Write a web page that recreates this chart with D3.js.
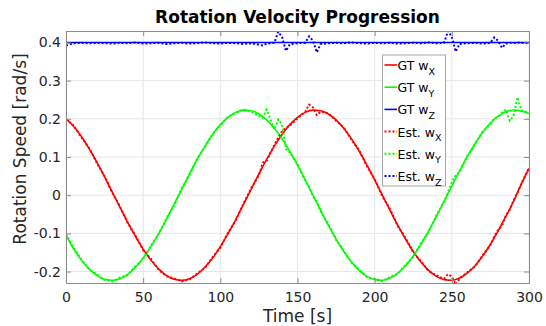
<!DOCTYPE html>
<html>
<head>
<meta charset="utf-8">
<script src="https://cdn.jsdelivr.net/npm/d3@7"></script>
<style>
body { margin: 0; background: #fff; }
text { font-family: "DejaVu Sans", sans-serif; }
</style>
</head>
<body>
<div id="chart"></div>
<script>
// ground truth, every 5 s
var gtTime = [0,5,10,15,20,25,30,35,40,45,50,55,60,65,70,75,80,85,90,95,100,
  105,110,115,120,125,130,135,140,145,150,155,160,165,170,175,180,185,190,195,200,
  205,210,215,220,225,230,235,240,245,250,255,260,265,270,275,280,285,290,295,300];
var gtX = [0.2006,0.180,0.1535,0.1218,0.0864,0.0479,0.0082,-0.0322,-0.0711,-0.1078,-0.1412,
  -0.1701,-0.1931,-0.2099,-0.2201,-0.2230,-0.2186,-0.2072,-0.1889,-0.1647,-0.1348,
  -0.1009,-0.0637,-0.0241,0.0159,0.0558,0.0935,0.1285,0.1591,0.1847,0.2040,
  0.2169,0.2227,0.2212,0.2126,0.1971,0.1750,0.1475,0.1148,0.0788,0.0399,
  0.0000,-0.0399,-0.0788,-0.1148,-0.1475,-0.1750,-0.1971,-0.2126,-0.2212,-0.2227,
  -0.2168,-0.2040,-0.1847,-0.1591,-0.1285,-0.0935,-0.0558,-0.0159,0.0290,0.0700];
var gtY = [-0.104,-0.1412,-0.1701,-0.1931,-0.2099,-0.2201,-0.2230,-0.2186,-0.2072,-0.1889,-0.1647,
  -0.1348,-0.1009,-0.0637,-0.0241,0.0159,0.0558,0.0935,0.1285,0.1591,0.1847,
  0.2040,0.2169,0.2227,0.2212,0.2126,0.1971,0.1750,0.1475,0.1148,0.0788,
  0.0399,0.0000,-0.0399,-0.0788,-0.1148,-0.1475,-0.1750,-0.1971,-0.2126,-0.2212,
  -0.2227,-0.2168,-0.2040,-0.1847,-0.1591,-0.1285,-0.0935,-0.0558,-0.0159,0.0241,
  0.0637,0.1009,0.1348,0.1647,0.1889,0.2072,0.2186,0.2230,0.2201,0.2140];
var gtZ = gtTime.map(function() { return 0.4; });

// estimates (denser around the glitches)
var estTime = [0,5,10,15,20,25,30,35,40,45,50,55,60,65,70,75,80,85,90,95,100,
  105,110,115,120,125,127.5,130,135,137.5,140,142.5,145,150,155,157.5,160,162.5,
  165,170,175,180,185,190,195,200,205,210,215,220,225,230,235,240,245,247.5,250,252.5,
  255,260,265,270,275,277.5,280,282.5,285,287.5,290,292.5,295,300];
var estX = [0.199,0.182,0.151,0.123,0.084,0.050,0.006,-0.030,-0.073,-0.106,-0.144,
  -0.167,-0.195,-0.212,-0.218,-0.226,-0.221,-0.205,-0.191,-0.162,-0.137,
  -0.098,-0.066,-0.022,0.019,0.052,0.085,0.090,0.132,0.150,0.168,0.176,0.182,0.201,0.219,0.237,0.230,0.210,
  0.219,0.214,0.195,0.177,0.145,0.117,0.076,0.042,-0.003,-0.037,-0.081,-0.112,-0.150,-0.173,-0.199,-0.210,-0.219,-0.207,-0.213,-0.234,
  -0.219,-0.202,-0.187,-0.157,-0.131,-0.108,-0.091,-0.080,-0.053,-0.039,-0.013,0.006,0.029,0.072];
var estY = [-0.102,-0.138,-0.168,-0.195,-0.207,-0.222,-0.226,-0.216,-0.209,-0.186,-0.167,
  -0.132,-0.103,-0.061,-0.027,0.018,0.053,0.096,0.126,0.161,0.182,
  0.206,0.215,0.224,0.219,0.207,0.203,0.224,0.172,0.198,0.185,0.121,0.112,0.081,0.037,0.023,-0.003,-0.018,
  -0.042,-0.076,-0.117,-0.145,-0.177,-0.195,-0.215,-0.219,-0.225,-0.214,-0.206,-0.182,-0.162,-0.126,-0.096,-0.053,-0.018,0.008,0.035,0.052,
  0.061,0.103,0.132,0.167,0.186,0.201,0.205,0.216,0.224,0.195,0.208,0.256,0.223,0.215];
var estZ = [0.392,0.398,0.399,0.398,0.399,0.398,0.397,0.399,0.398,0.400,0.397,
  0.398,0.399,0.396,0.398,0.399,0.397,0.398,0.400,0.398,0.397,
  0.399,0.398,0.396,0.398,0.394,0.392,0.397,0.399,0.428,0.414,0.378,0.395,0.398,0.399,0.416,0.405,0.374,
  0.396,0.398,0.399,0.398,0.400,0.398,0.397,0.399,0.398,0.399,0.397,0.398,0.399,0.398,0.400,0.398,0.399,0.430,0.415,0.376,
  0.396,0.398,0.399,0.397,0.399,0.413,0.404,0.386,0.397,0.399,0.398,0.400,0.399,0.398];

var xTicks = [0,50,100,150,200,250,300];
var yTicks = [-0.2,-0.1,0,0.1,0.2,0.3,0.4];
var legendNames = [["GT w","X"],["GT w","Y"],["GT w","Z"],["Est. w","X"],["Est. w","Y"],["Est. w","Z"]];
var colors = ["#ff0000","#00ff00","#0000ff"];

var width = 546, height = 326;
var margin = {top: 31, right: 17, bottom: 43, left: 66};
var w = width - margin.left - margin.right,
    h = height - margin.top - margin.bottom;

var x = d3.scaleLinear().domain([0, 300]).range([0, w]);
var y = d3.scaleLinear().domain([-0.23, 0.43]).range([h, 0]);

var svg = d3.select("#chart").append("svg")
  .attr("width", width)
  .attr("height", height);

svg.append("defs").append("clipPath").attr("id", "clip")
  .append("rect").attr("width", w).attr("height", h);

var g = svg.append("g")
  .attr("transform", "translate(" + margin.left + "," + margin.top + ")");

// grid
g.selectAll(".gx").data(xTicks).enter().append("line")
  .attr("x1", function(d) { return x(d); }).attr("x2", function(d) { return x(d); })
  .attr("y1", 0).attr("y2", h)
  .attr("stroke", "#e6e6e6");
g.selectAll(".gy").data(yTicks).enter().append("line")
  .attr("y1", function(d) { return y(d); }).attr("y2", function(d) { return y(d); })
  .attr("x1", 0).attr("x2", w)
  .attr("stroke", "#e6e6e6");

function fmt(d) { return d === 0 ? "0" : d3.format(".1f")(d).replace("\u2212", "-"); }

var plot = g.append("g").attr("clip-path", "url(#clip)");

function series(times, vals) {
  return times.map(function(t, i) { return [t, vals[i]]; });
}
var line = d3.line()
  .x(function(d) { return x(d[0]); })
  .y(function(d) { return y(d[1]); });
var smooth = d3.line()
  .x(function(d) { return x(d[0]); })
  .y(function(d) { return y(d[1]); })
  .curve(d3.curveMonotoneX);

[gtX, gtY, gtZ].forEach(function(v, i) {
  plot.append("path")
    .datum(series(gtTime, v))
    .attr("d", smooth)
    .attr("fill", "none")
    .attr("stroke", colors[i])
    .attr("stroke-width", 1.6);
});
[estX, estY, estZ].forEach(function(v, i) {
  plot.append("path")
    .datum(series(estTime, v))
    .attr("d", line)
    .attr("fill", "none")
    .attr("stroke", colors[i])
    .attr("stroke-width", 2)
    .attr("stroke-dasharray", "2,2");
});

// axes
function styleAxis(sel) {
  sel.selectAll("path, line").attr("stroke", "#8c8c8c");
  sel.selectAll("text").attr("fill", "#262626").style("font-size", "14px");
}
g.append("g").attr("transform", "translate(0," + h + ")")
  .call(d3.axisBottom(x).tickValues(xTicks).tickSize(-5).tickSizeOuter(0).tickPadding(9))
  .call(styleAxis);
g.append("g")
  .call(d3.axisLeft(y).tickValues(yTicks).tickFormat(fmt).tickSize(-5).tickSizeOuter(0).tickPadding(5))
  .call(styleAxis);
g.append("g")
  .call(d3.axisTop(x).tickValues(xTicks).tickFormat("").tickSize(-5).tickSizeOuter(0))
  .call(styleAxis);
g.append("g").attr("transform", "translate(" + w + ",0)")
  .call(d3.axisRight(y).tickValues(yTicks).tickFormat("").tickSize(-5).tickSizeOuter(0))
  .call(styleAxis);
svg.selectAll(".domain").attr("fill", "none");

// titles
svg.append("text")
  .attr("x", margin.left + w / 2).attr("y", 23)
  .attr("text-anchor", "middle")
  .style("font-size", "17px").style("font-weight", "bold")
  .text("Rotation Velocity Progression");
svg.append("text")
  .attr("x", margin.left + w / 2).attr("y", 322)
  .attr("text-anchor", "middle")
  .attr("fill", "#262626")
  .style("font-size", "17px")
  .text("Time [s]");
svg.append("text")
  .attr("transform", "translate(25.5,149) rotate(-90)")
  .attr("text-anchor", "middle")
  .attr("fill", "#262626")
  .style("font-size", "17px")
  .text("Rotation Speed [rad/s]");

// legend
var lg = svg.append("g");
lg.append("rect")
  .attr("x", 382.5).attr("y", 55).attr("width", 63).attr("height", 131)
  .attr("fill", "#fff").attr("stroke", "#a6a6a6");
legendNames.forEach(function(n, i) {
  var cy = 65 + i * 22.2;
  lg.append("line")
    .attr("x1", 384.5).attr("x2", 397).attr("y1", cy).attr("y2", cy)
    .attr("stroke", colors[i % 3])
    .attr("stroke-width", i < 3 ? 1.6 : 2)
    .attr("stroke-dasharray", i < 3 ? null : "2,2");
  var t = lg.append("text")
    .attr("x", 397.5).attr("y", cy + 5)
    .attr("fill", "#000")
    .style("font-size", "12.5px");
  t.append("tspan").text(n[0]);
  t.append("tspan").attr("dy", 4.5).style("font-size", "9.5px").text(n[1]);
});
</script>
</body>
</html>
